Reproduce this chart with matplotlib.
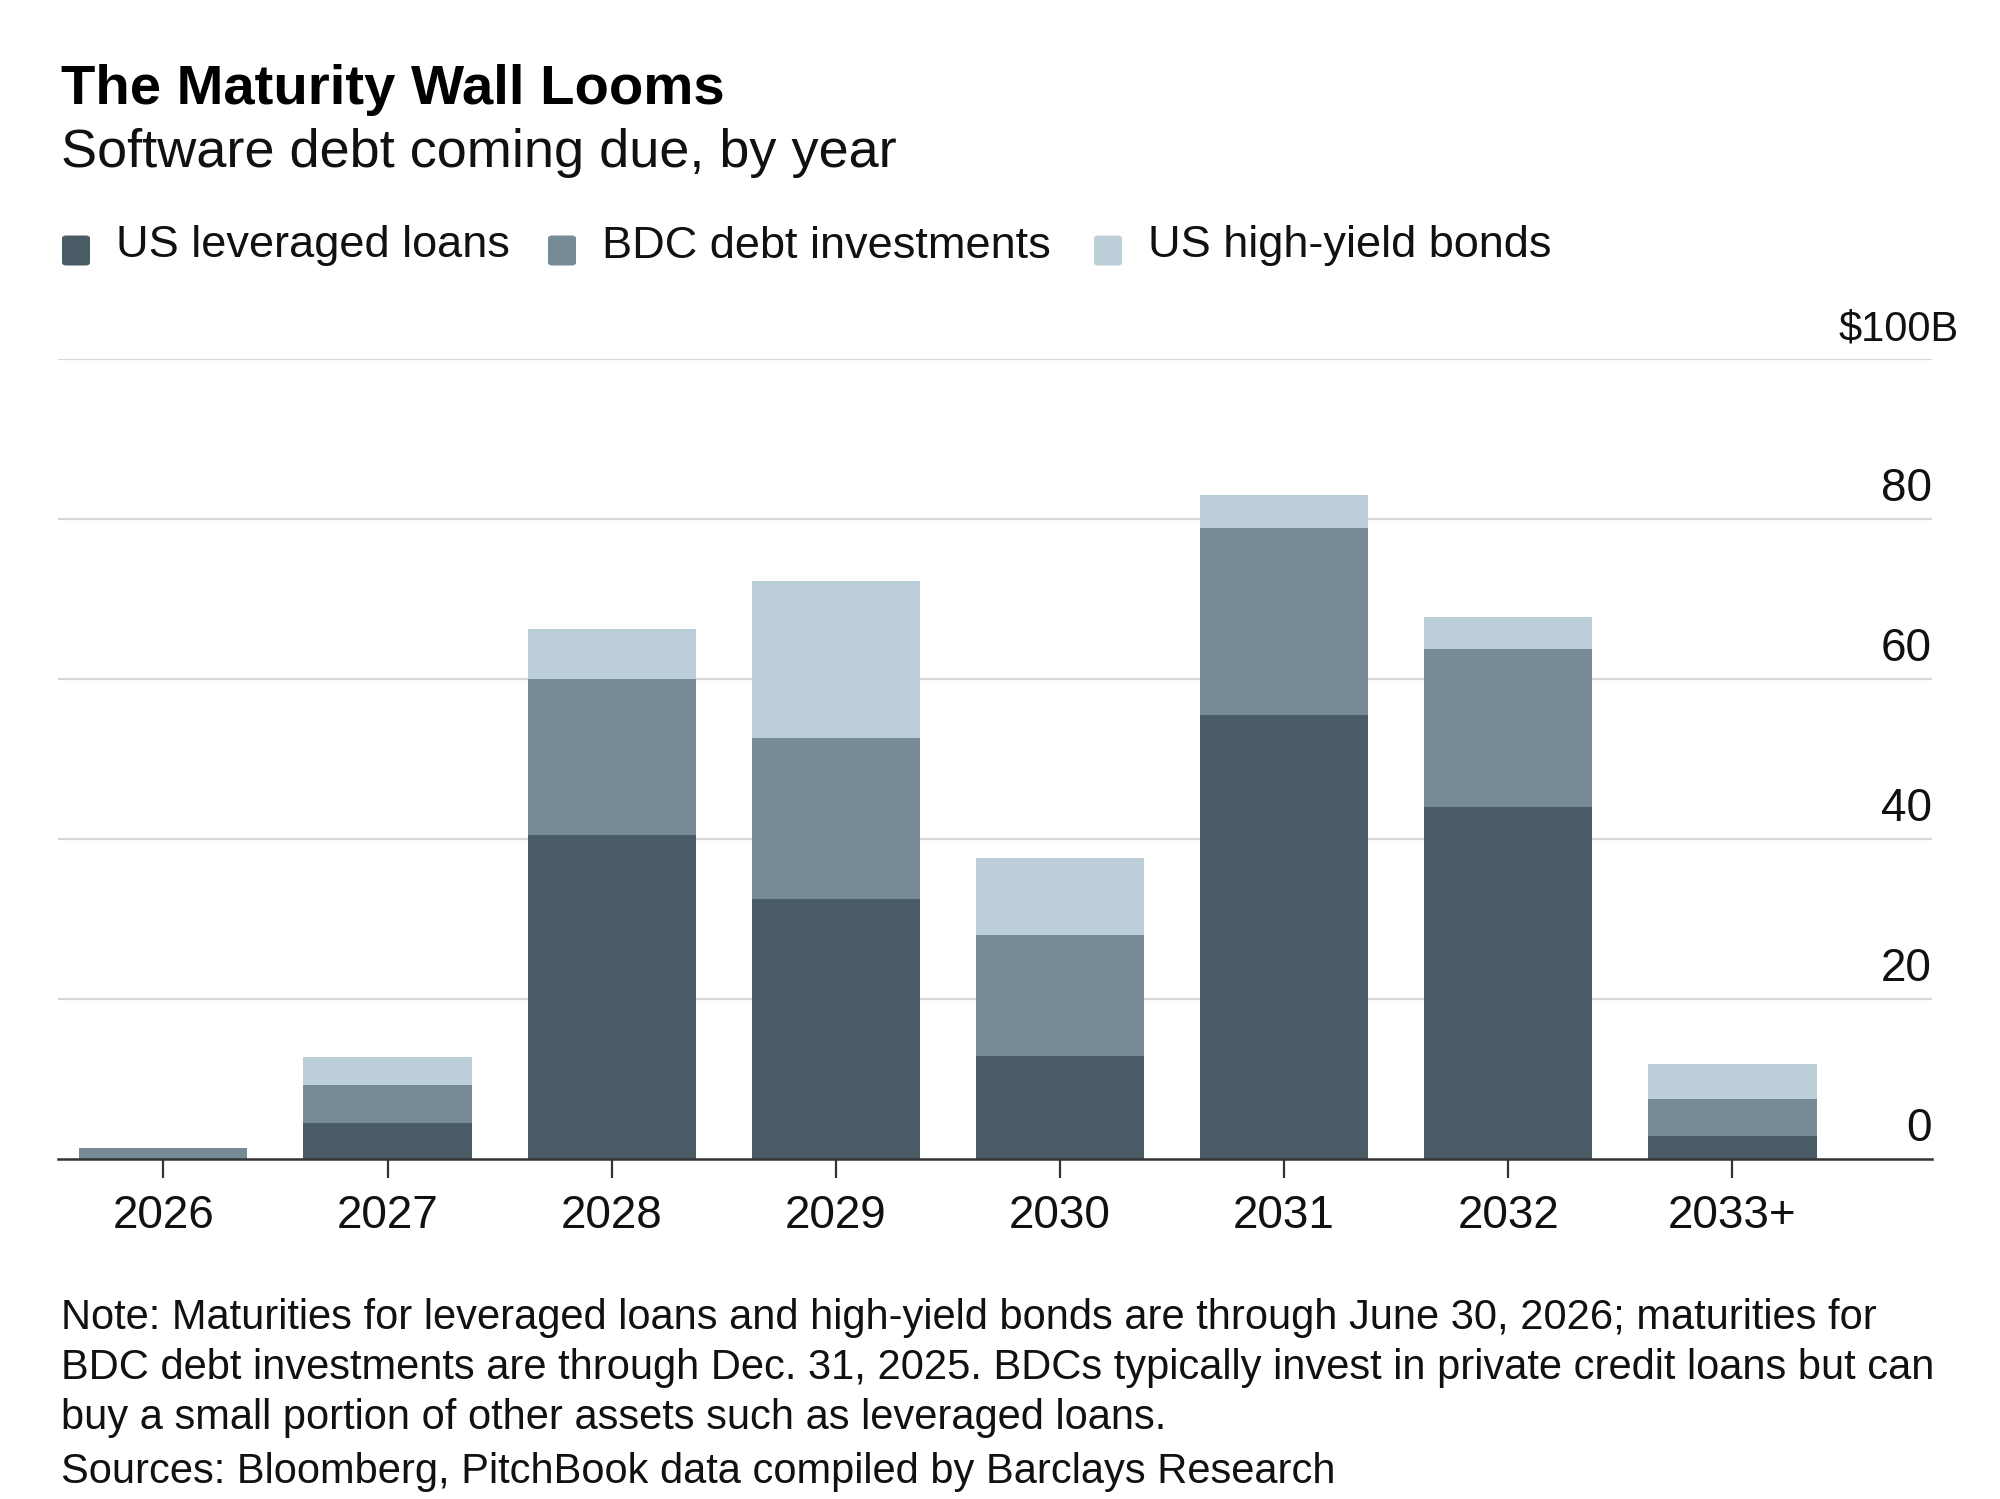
import numpy as np
import matplotlib
matplotlib.use("Agg")
import matplotlib.pyplot as plt
from matplotlib.patches import FancyBboxPatch

plt.rcParams["font.family"] = ["Liberation Sans", "DejaVu Sans"]

# ============================================================
# Data (USD billions)
# ============================================================

years     = ["2026", "2027", "2028", "2029", "2030", "2031", "2032", "2033+"]
lev_loans = [0.0, 4.5, 40.5, 32.5, 12.9, 55.5, 44.0, 2.9]
bdc_debt  = [1.4, 4.8, 19.5, 20.1, 15.1, 23.4, 19.8, 4.6]
hy_bonds  = [0.0, 3.5, 6.2, 19.7, 9.6, 4.1, 4.0, 4.4]

series_names  = ["US leveraged loans", "BDC debt investments", "US high-yield bonds"]
series_colors = ["#495b65", "#778b97", "#bccfd8"]

y_ticks  = [0, 20, 40, 60, 80, 100]
y_labels = ["0", "20", "40", "60", "80", "$100B"]

# ============================================================
# Figure
# ============================================================

fig = plt.figure(figsize=(20, 14.99), dpi=100)
ax = fig.add_axes([0.029, 0.2268, 0.937, 0.5337])

x = np.arange(len(years))
bottom = np.zeros(len(years))
for vals, col in zip([lev_loans, bdc_debt, hy_bonds], series_colors):
    ax.bar(x, vals, width=0.75, bottom=bottom, color=col, linewidth=0, zorder=3)
    bottom += np.array(vals)

ax.set_xlim(-0.47, 7.89)
ax.set_ylim(0, 100)

# gridlines
for t in y_ticks[1:]:
    ax.axhline(t, color="#d6d6d6", linewidth=1.6, zorder=1)

# y labels sit above their gridline, right aligned
for t, lab in zip(y_ticks, y_labels):
    is_top = lab.startswith("$")
    ax.annotate(lab, xy=(1.0, t), xycoords=("axes fraction", "data"),
                xytext=(19 if is_top else 0, 13), textcoords="offset points",
                ha="right", va="baseline", fontsize=30 if is_top else 33,
                color="#111111")

ax.set_yticks([])
ax.set_xticks(x)
ax.set_xticklabels(years, fontsize=33, color="#111111")
ax.tick_params(axis="x", length=14, width=1.6, color="#333333", pad=11)

for s in ["top", "right", "left"]:
    ax.spines[s].set_visible(False)
ax.spines["bottom"].set_color("#333333")
ax.spines["bottom"].set_linewidth(1.8)
ax.spines["bottom"].set_zorder(4)

# ============================================================
# Titles, legend, notes
# ============================================================

fig.text(0.0305, 1 - 90 / 1499, "The Maturity Wall Looms", fontsize=40.5,
         fontweight="bold", va="center", ha="left", color="#000000")
fig.text(0.0305, 1 - 153 / 1499, "Software debt coming due, by year", fontsize=39,
         va="center", ha="left", color="#111111")

leg_y = 1 - 246 / 1499
marker_x = [62, 548, 1094]
for mx, name, col in zip(marker_x, series_names, series_colors):
    w, h = 28 / 2000, 30 / 1499
    fig.patches.append(FancyBboxPatch((mx / 2000, leg_y - h / 2 - 0.003), w, h,
                                      boxstyle="round,pad=0,rounding_size=0.002",
                                      transform=fig.transFigure, facecolor=col,
                                      edgecolor="none"))
    fig.text((mx + 54) / 2000, leg_y, name, fontsize=32.5, va="center", ha="left",
             color="#111111")

notes = [
    "Note: Maturities for leveraged loans and high-yield bonds are through June 30, 2026; maturities for",
    "BDC debt investments are through Dec. 31, 2025. BDCs typically invest in private credit loans but can",
    "buy a small portion of other assets such as leveraged loans.",
    "Sources: Bloomberg, PitchBook data compiled by Barclays Research",
]
note_y = [1318, 1368, 1418, 1472]
for line, yy in zip(notes, note_y):
    fig.text(0.0305, 1 - yy / 1499, line, fontsize=30, va="center", ha="left",
             color="#111111")

fig.savefig("out.png", dpi=100, facecolor="white")
